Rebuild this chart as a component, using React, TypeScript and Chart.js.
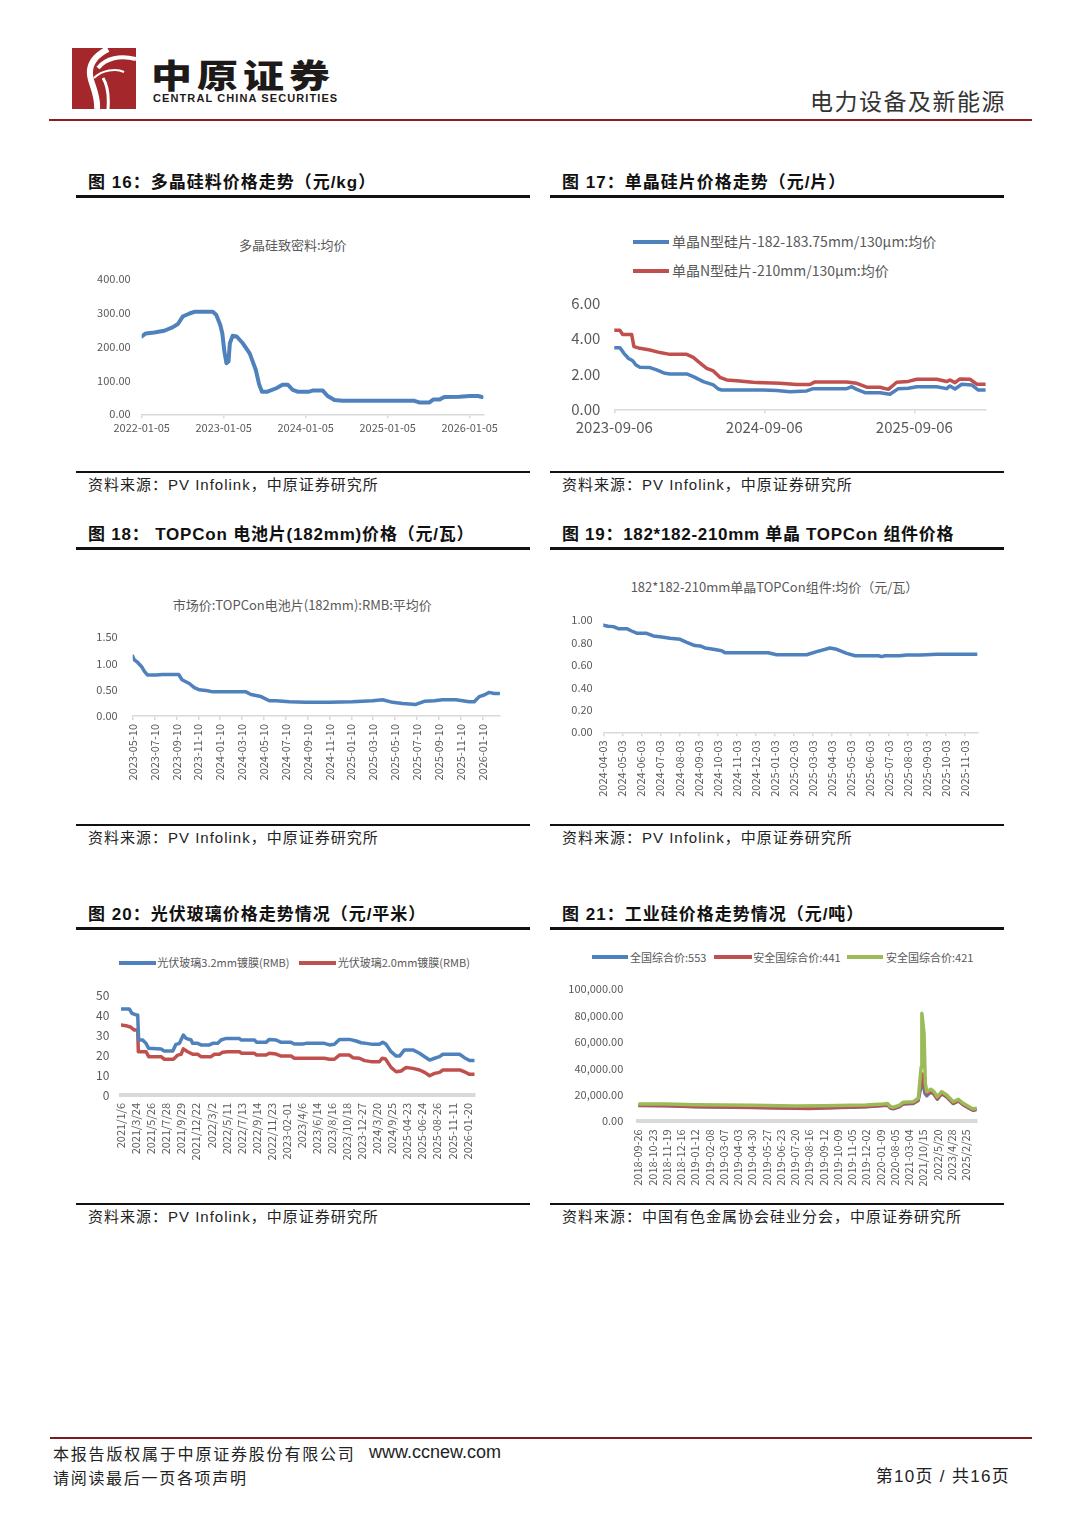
import React, { useEffect, useRef } from "react";
import { Chart, registerables } from "chart.js";

Chart.register(...registerables);

// ---------------- DATA ----------------
// Fig 16: polysilicon dense material avg price, x = months since 2022-01-05
const POLY_TICKS = [0, 12, 24, 36, 48];
const POLY_LABELS = ["2022-01-05", "2023-01-05", "2024-01-05", "2025-01-05", "2026-01-05"];
const POLYSILICON = [
  [0, 230], [0.6, 239], [1.85, 242], [3.3, 247], [4.5, 257], [5.3, 267], [6, 289], [7, 298], [7.7, 303],
  [10.4, 303], [10.9, 294], [11.5, 264], [11.8, 239], [12.1, 185], [12.4, 151], [12.7, 156], [12.9, 210],
  [13.3, 232], [13.9, 230], [14.8, 210], [15.8, 180], [16.7, 131], [17.2, 87], [17.6, 67], [18.4, 67],
  [19.7, 77], [20.6, 87], [21.4, 87], [22.1, 72], [22.8, 67], [24.5, 67], [25, 70], [26.5, 70], [27.2, 54],
  [28.2, 42], [29.4, 40], [34.3, 40], [39.9, 40], [40.6, 35], [42.1, 35], [42.7, 44], [43.6, 44], [44.3, 51],
  [46.5, 52], [48, 54], [49.2, 54], [49.8, 51],
];

// Fig 17: wafer prices, x = months since 2023-09-06
const WAFER_TICKS = [0, 12, 24];
const WAFER_LABELS = ["2023-09-06", "2024-09-06", "2025-09-06"];
const WAFER_NAMES = ["单晶N型硅片-182-183.75mm/130μm:均价", "单晶N型硅片-210mm/130μm:均价"];
const WAFER_182 = [
  [0, 3.49], [0.45, 3.49], [0.77, 3.17], [1.12, 2.89], [1.47, 2.75], [1.73, 2.51], [2.05, 2.38], [2.85, 2.36],
  [3.39, 2.23], [4.05, 2.04], [4.45, 2.0], [5.79, 2.0], [6.32, 1.85], [7.12, 1.57], [7.92, 1.38], [8.32, 1.15],
  [8.59, 1.09], [11.92, 1.09], [12.99, 1.06], [14.05, 1.0], [15.39, 1.04], [15.92, 1.17], [18.59, 1.17],
  [18.99, 1.28], [19.39, 1.13], [20.05, 0.94], [21.25, 0.94], [22.05, 0.85], [22.72, 1.17], [23.52, 1.19],
  [24.19, 1.28], [25.79, 1.28], [26.59, 1.17], [26.85, 1.32], [27.25, 1.15], [27.79, 1.42], [28.59, 1.38],
  [29.12, 1.09], [29.65, 1.09],
];
const WAFER_210 = [
  [0, 4.47], [0.45, 4.47], [0.67, 4.23], [1.39, 4.23], [1.57, 3.55], [2.05, 3.45], [2.85, 3.36], [3.65, 3.21],
  [4.45, 3.11], [5.79, 3.11], [6.32, 2.94], [6.72, 2.7], [7.39, 2.32], [7.92, 2.17], [8.45, 1.81], [8.99, 1.66],
  [9.79, 1.62], [10.85, 1.55], [11.39, 1.51], [13.25, 1.47], [14.59, 1.4], [15.65, 1.4], [16.05, 1.55],
  [18.59, 1.55], [19.39, 1.47], [20.19, 1.25], [21.25, 1.25], [21.92, 1.13], [22.59, 1.53], [23.52, 1.58],
  [24.19, 1.7], [25.79, 1.7], [26.59, 1.57], [26.85, 1.66], [27.25, 1.51], [27.65, 1.72], [28.45, 1.7],
  [28.99, 1.42], [29.65, 1.42],
];

// Fig 18: TOPCon cell price, x = months since 2023-05-10
const CELL_TICKS = [0, 2, 4, 6, 8, 10, 12, 14, 16, 18, 20, 22, 24, 26, 28, 30, 32];
const CELL_LABELS = [
  "2023-05-10", "2023-07-10", "2023-09-10", "2023-11-10", "2024-01-10", "2024-03-10", "2024-05-10",
  "2024-07-10", "2024-09-10", "2024-11-10", "2025-01-10", "2025-03-10", "2025-05-10", "2025-07-10",
  "2025-09-10", "2025-11-10", "2026-01-10",
];
const TOPCON_CELL = [
  [0, 1.14], [0.15, 1.07], [0.46, 1.02], [0.82, 0.94], [1.07, 0.85], [1.37, 0.78], [2.13, 0.78], [2.74, 0.79],
  [4.21, 0.79], [4.51, 0.69], [5.18, 0.62], [5.64, 0.54], [6.1, 0.5], [6.86, 0.48], [7.32, 0.46], [10.37, 0.46],
  [10.82, 0.41], [11.74, 0.37], [12.5, 0.29], [13.11, 0.29], [14.33, 0.27], [15.85, 0.26], [17.99, 0.26],
  [20.12, 0.27], [21.95, 0.29], [22.87, 0.31], [23.78, 0.26], [24.7, 0.24], [25.91, 0.22], [26.68, 0.28],
  [27.59, 0.29], [28.35, 0.31], [29.57, 0.31], [30.79, 0.27], [31.25, 0.27], [31.71, 0.37], [32.16, 0.4],
  [32.62, 0.45], [33.08, 0.43], [33.6, 0.43],
];

// Fig 19: TOPCon module price, x = months since 2024-04-03
const MODULE_TICKS = [0, 1, 2, 3, 4, 5, 6, 7, 8, 9, 10, 11, 12, 13, 14, 15, 16, 17, 18, 19];
const MODULE_LABELS = [
  "2024-04-03", "2024-05-03", "2024-06-03", "2024-07-03", "2024-08-03", "2024-09-03", "2024-10-03",
  "2024-11-03", "2024-12-03", "2025-01-03", "2025-02-03", "2025-03-03", "2025-04-03", "2025-05-03",
  "2025-06-03", "2025-07-03", "2025-08-03", "2025-09-03", "2025-10-03", "2025-11-03",
];
const TOPCON_MODULE = [
  [0, 0.953], [0.26, 0.944], [0.53, 0.941], [0.79, 0.923], [1.23, 0.923], [1.49, 0.902], [1.79, 0.881],
  [2.28, 0.881], [2.63, 0.858], [3.07, 0.849], [3.51, 0.837], [4.04, 0.828], [4.39, 0.801], [4.82, 0.772],
  [5.09, 0.769], [5.35, 0.751], [5.79, 0.739], [6.23, 0.727], [6.4, 0.709], [8.68, 0.709], [9.12, 0.691],
  [10.7, 0.691], [11.23, 0.718], [11.93, 0.751], [12.28, 0.739], [12.81, 0.703], [13.25, 0.682], [14.47, 0.682],
  [14.65, 0.674], [14.82, 0.682], [15.61, 0.682], [15.96, 0.688], [16.67, 0.688], [17.02, 0.691], [17.54, 0.694],
  [19.68, 0.694],
];

// Fig 20: PV glass prices, x = position along the category axis (label index)
const GLASS_TICKS = [0, 1, 2, 3, 4, 5, 6, 7, 8, 9, 10, 11, 12, 13, 14, 15, 16, 17, 18, 19, 20, 21, 22, 23];
const GLASS_LABELS = [
  "2021/1/6", "2021/3/24", "2021/5/26", "2021/7/28", "2021/9/29", "2021/12/22", "2022/3/2", "2022/5/11",
  "2022/7/13", "2022/9/14", "2022/11/23", "2023-02-01", "2023/4/6", "2023/6/14", "2023/8/16", "2023/10/18",
  "2023-12-27", "2024/3/20", "2024/9/25", "2025-04-23", "2025-06-24", "2025-08-26", "2025-11-11", "2026-01-20",
];
const GLASS_NAMES = ["光伏玻璃3.2mm镀膜(RMB)", "光伏玻璃2.0mm镀膜(RMB)"];
const GLASS_32 = [
  [0, 43.3], [0.55, 43.3], [0.73, 41.1], [1.0, 40.3], [1.11, 40.3], [1.17, 27.7], [1.44, 27.7], [1.66, 26.0],
  [1.84, 23.5], [2.66, 23.2], [2.88, 22.1], [3.44, 22.1], [3.65, 25.5], [3.88, 26.0], [4.14, 30.2], [4.32, 28.5],
  [4.65, 27.7], [4.76, 26.0], [5.09, 26.0], [5.31, 25.2], [5.87, 25.2], [6.09, 26.0], [6.42, 26.0], [6.64, 27.7],
  [6.98, 28.5], [7.86, 28.5], [7.97, 27.7], [8.86, 27.7], [9.01, 26.5], [9.63, 26.5], [9.85, 28.0], [10.3, 27.7],
  [10.63, 26.5], [11.29, 26.5], [11.51, 25.7], [12.07, 25.7], [12.29, 26.0], [13.5, 26.0], [13.84, 25.2],
  [14.17, 25.5], [14.5, 28.0], [15.17, 28.0], [15.61, 27.2], [15.94, 26.3], [16.28, 26.0], [16.72, 25.5],
  [17.16, 25.5], [17.38, 26.5], [17.6, 25.5], [17.93, 21.8], [18.27, 19.6], [18.49, 19.6], [18.82, 22.7],
  [19.38, 22.7], [19.82, 21.0], [20.16, 19.3], [20.49, 17.6], [20.82, 18.5], [21.15, 19.3], [21.37, 20.5],
  [22.48, 20.5], [22.8, 18.8], [23.14, 17.4], [23.47, 17.4],
];
const GLASS_20 = [
  [0, 35.2], [0.33, 34.9], [0.66, 34.1], [0.89, 32.7], [1.11, 32.7], [1.15, 21.8], [1.66, 21.8], [1.84, 19.3],
  [2.66, 19.3], [2.88, 18.0], [3.48, 18.0], [3.77, 20.1], [3.99, 20.5], [4.14, 23.2], [4.43, 21.8], [4.76, 20.5],
  [5.09, 20.5], [5.31, 19.3], [5.98, 19.3], [6.2, 20.5], [6.53, 20.5], [6.75, 21.5], [7.08, 21.8], [7.86, 21.8],
  [8.01, 21.0], [8.86, 21.0], [9.01, 20.1], [9.63, 20.1], [9.85, 21.0], [10.3, 20.6], [10.63, 19.6], [11.29, 19.6],
  [11.51, 18.5], [13.5, 18.5], [13.84, 18.0], [14.17, 18.0], [14.5, 20.1], [15.17, 20.1], [15.39, 18.8],
  [15.83, 18.5], [16.17, 17.3], [16.61, 16.8], [17.16, 16.8], [17.34, 18.5], [17.56, 18.1], [17.93, 13.9],
  [18.27, 11.7], [18.6, 12.1], [18.93, 13.9], [19.38, 13.4], [19.82, 12.6], [20.16, 11.4], [20.49, 9.7],
  [20.82, 10.9], [21.15, 11.4], [21.37, 12.6], [22.48, 12.6], [22.8, 11.7], [23.14, 10.4], [23.47, 10.4],
];

// Fig 21: industrial silicon prices, x = position along the category axis (label index)
const SI_TICKS = [0, 1, 2, 3, 4, 5, 6, 7, 8, 9, 10, 11, 12, 13, 14, 15, 16, 17, 18, 19, 20, 21, 22, 23];
const SI_LABELS = [
  "2018-09-26", "2018-10-23", "2018-11-19", "2018-12-16", "2019-01-12", "2019-02-08", "2019-03-07",
  "2019-04-03", "2019-04-30", "2019-05-27", "2019-06-23", "2019-07-20", "2019-08-16", "2019-09-12",
  "2019-10-09", "2019-11-05", "2019-12-02", "2020-01-09", "2020-08-05", "2021-03-04", "2021/10/15",
  "2022/5/20", "2023/4/28", "2025/2/25",
];
const SI_NAMES = ["全国综合价:553", "安全国综合价:441", "安全国综合价:421"];
const SI_553 = [
  [0, 11700], [2, 11500], [4, 10800], [8, 10300], [11, 9600], [12, 9400], [13, 9800], [16, 10800],
  [17.2, 11700], [17.5, 11900], [17.7, 9700], [17.9, 9300], [18.3, 10700], [18.6, 12900], [19.3, 13300],
  [19.65, 15500], [19.85, 26000], [19.95, 30000], [20.1, 21000], [20.24, 19000], [20.52, 22000],
  [20.75, 20200], [20.98, 16500], [21.29, 20600], [21.64, 18200], [22.1, 13200], [22.46, 15200],
  [22.8, 12200], [23.27, 9300], [23.5, 8100], [23.74, 8700],
];
const SI_441 = [
  [0, 12000], [2, 11800], [4, 11000], [8, 10500], [11, 9800], [12, 9600], [13, 10000], [16, 11000],
  [17.2, 12000], [17.5, 12200], [17.7, 10000], [17.9, 9600], [18.3, 11000], [18.6, 13200], [19.3, 13600],
  [19.65, 16000], [19.85, 30000], [19.95, 36000], [20.1, 24000], [20.24, 20500], [20.52, 22500],
  [20.75, 20600], [20.98, 16800], [21.29, 21000], [21.64, 18500], [22.1, 13500], [22.46, 15500],
  [22.8, 12500], [23.27, 9600], [23.5, 8400], [23.74, 9000],
];
const SI_421 = [
  [0, 13000], [2, 13000], [4, 12600], [8, 12200], [11, 11600], [13, 11800], [16, 12400], [17.2, 13000],
  [17.5, 13400], [17.7, 11000], [17.9, 10600], [18.3, 12000], [18.6, 14400], [19.3, 14800], [19.65, 17400],
  [19.85, 41000], [19.9, 81600], [20.05, 66500], [20.14, 28700], [20.24, 22400], [20.52, 24200],
  [20.75, 22400], [20.98, 18600], [21.29, 22400], [21.64, 19900], [22.1, 14800], [22.46, 16600],
  [22.8, 13600], [23.27, 10600], [23.5, 9300], [23.74, 10000],
];

// ---------------- STYLE ----------------
const CJK = '"Noto Sans CJK SC", "Noto Sans", sans-serif';
const LAT = '"Liberation Sans", "Noto Sans CJK SC", sans-serif';
const BLUE = "#4F81BD";
const RED = "#C0504D";
const GREEN = "#9BBB59";
const AXIS = "#D9D9D9";
const TXT = "#595959";
const DARKRED = "#8E1F1F";

const fmt2 = (v: number) => v.toFixed(2);
const fmt0 = (v: number) => String(Math.round(v));
const fmtComma = (v: number) =>
  v.toLocaleString("en-US", { minimumFractionDigits: 2, maximumFractionDigits: 2 });

type Series = { pts: number[][]; color: string; width: number; order: number };
type Cfg = {
  left: number; top: number; width: number; height: number;
  padTop: number; padRight: number; yWidth: number; xHeight: number;
  xMin: number; xMax: number; xTicks: number[]; xLabels: string[]; xRot: number; xFont: number;
  xPad: number; xTickLen: number; axisWidth: number;
  yMin: number; yMax: number; yTicks: number[]; yFmt: (v: number) => string; yFont: number; yGap: number;
  series: Series[];
};

const CHARTS: Cfg[] = [
  {
    left: 76, top: 265, width: 460, height: 180, padTop: 14, padRight: 52.6, yWidth: 65.7, xHeight: 30.7,
    xMin: 0, xMax: 50, xTicks: POLY_TICKS, xLabels: POLY_LABELS, xRot: 0, xFont: 11, xPad: 3, xTickLen: 4, axisWidth: 1.5,
    yMin: 0, yMax: 400, yTicks: [0, 100, 200, 300, 400], yFmt: fmt2, yFont: 11, yGap: 11,
    series: [{ pts: POLYSILICON, color: BLUE, width: 4, order: 0 }],
  },
  {
    left: 550, top: 290, width: 460, height: 160, padTop: 13.3, padRight: 24.4, yWidth: 64.3, xHeight: 40.7,
    xMin: 0, xMax: 29.7, xTicks: WAFER_TICKS, xLabels: WAFER_LABELS, xRot: 0, xFont: 15, xPad: 5, xTickLen: 4, axisWidth: 1.5,
    yMin: 0, yMax: 6, yTicks: [0, 2, 4, 6], yFmt: fmt2, yFont: 15, yGap: 14,
    series: [
      { pts: WAFER_182, color: BLUE, width: 3.5, order: 1 },
      { pts: WAFER_210, color: RED, width: 3.5, order: 0 },
    ],
  },
  {
    left: 76, top: 625, width: 460, height: 165, padTop: 12.3, padRight: 36.1, yWidth: 56.7, xHeight: 74,
    xMin: 0, xMax: 33.6, xTicks: CELL_TICKS, xLabels: CELL_LABELS, xRot: 90, xFont: 11, xPad: 4, xTickLen: 4, axisWidth: 1.5,
    yMin: 0, yMax: 1.5, yTicks: [0, 0.5, 1, 1.5], yFmt: fmt2, yFont: 11, yGap: 15,
    series: [{ pts: TOPCON_CELL, color: BLUE, width: 3.5, order: 0 }],
  },
  {
    left: 550, top: 607, width: 460, height: 200, padTop: 13, padRight: 32.7, yWidth: 53.3, xHeight: 74.7,
    xMin: 0, xMax: 19.68, xTicks: MODULE_TICKS, xLabels: MODULE_LABELS, xRot: 90, xFont: 11, xPad: 4, xTickLen: 4, axisWidth: 1.5,
    yMin: 0, yMax: 1, yTicks: [0, 0.2, 0.4, 0.6, 0.8, 1], yFmt: fmt2, yFont: 11, yGap: 10.6,
    series: [{ pts: TOPCON_MODULE, color: BLUE, width: 3.5, order: 0 }],
  },
  {
    left: 76, top: 982, width: 460, height: 180, padTop: 13.7, padRight: 61.5, yWidth: 45, xHeight: 67,
    xMin: 0, xMax: 23.47, xTicks: GLASS_TICKS, xLabels: GLASS_LABELS, xRot: 90, xFont: 11, xPad: 8, xTickLen: 0, axisWidth: 4,
    yMin: 0, yMax: 50, yTicks: [0, 10, 20, 30, 40, 50], yFmt: fmt0, yFont: 12, yGap: 11.7,
    series: [
      { pts: GLASS_32, color: BLUE, width: 3.5, order: 0 },
      { pts: GLASS_20, color: RED, width: 3.5, order: 1 },
    ],
  },
  {
    left: 550, top: 976, width: 460, height: 210, padTop: 13, padRight: 33.4, yWidth: 88.3, xHeight: 64.7,
    xMin: 0, xMax: 23.74, xTicks: SI_TICKS, xLabels: SI_LABELS, xRot: 90, xFont: 11, xPad: 8, xTickLen: 0, axisWidth: 4,
    yMin: 0, yMax: 100000, yTicks: [0, 20000, 40000, 60000, 80000, 100000], yFmt: fmtComma, yFont: 11, yGap: 15,
    series: [
      { pts: SI_553, color: BLUE, width: 3, order: 2 },
      { pts: SI_441, color: RED, width: 3, order: 1 },
      { pts: SI_421, color: GREEN, width: 3.5, order: 0 },
    ],
  },
];

function LineChart({ c }: { c: Cfg }) {
  const ref = useRef<HTMLCanvasElement | null>(null);
  useEffect(() => {
    if (!ref.current) return;
    const chart = new Chart(ref.current, {
      type: "line",
      data: {
        datasets: c.series.map((s) => ({
          data: s.pts.map(([x, y]) => ({ x, y })),
          borderColor: s.color,
          backgroundColor: s.color,
          borderWidth: s.width,
          pointRadius: 0,
          tension: 0,
          fill: false,
          order: s.order,
          borderJoinStyle: "round",
          borderCapStyle: "round",
        })),
      },
      options: {
        animation: false,
        responsive: false,
        maintainAspectRatio: false,
        layout: { padding: { left: 0, top: c.padTop, right: c.padRight, bottom: 0 } },
        plugins: { legend: { display: false }, tooltip: { enabled: false }, title: { display: false } },
        scales: {
          x: {
            type: "linear",
            min: c.xMin,
            max: c.xMax,
            afterBuildTicks: (s: any) => {
              s.ticks = c.xTicks.map((v) => ({ value: v }));
            },
            afterFit: (s: any) => {
              s.height = c.xHeight;
            },
            ticks: {
              autoSkip: false,
              minRotation: c.xRot,
              maxRotation: c.xRot,
              padding: c.xPad,
              color: TXT,
              font: { family: CJK, size: c.xFont },
              callback: (_v: any, i: number) => c.xLabels[i],
            },
            grid: {
              display: true,
              drawOnChartArea: false,
              drawTicks: c.xTickLen > 0,
              tickLength: c.xTickLen,
              color: AXIS,
              lineWidth: 1.5,
            },
            border: { display: true, color: AXIS, width: c.axisWidth },
          },
          y: {
            type: "linear",
            min: c.yMin,
            max: c.yMax,
            afterBuildTicks: (s: any) => {
              s.ticks = c.yTicks.map((v) => ({ value: v }));
            },
            afterFit: (s: any) => {
              s.width = c.yWidth;
            },
            ticks: {
              padding: 0,
              color: TXT,
              font: { family: CJK, size: c.yFont },
              callback: (v: any) => c.yFmt(Number(v)),
            },
            grid: { display: false, drawTicks: true, tickLength: c.yGap },
            border: { display: false },
          },
        },
      },
    } as any);
    return () => chart.destroy();
  }, [c]);
  return (
    <canvas
      ref={ref}
      width={c.width}
      height={c.height}
      style={{ position: "absolute", left: c.left, top: c.top, width: c.width, height: c.height }}
    />
  );
}

// ---------------- PAGE TEXT ----------------
type TP = {
  x: number; y: number; size: number; children: React.ReactNode; color?: string; family?: string;
  weight?: number; align?: "left" | "center" | "right"; ls?: number; sy?: number;
};
function Txt({ x, y, size, children, color = "#222", family = CJK, weight = 400, align = "left", ls = 0, sy = 1 }: TP) {
  const st: React.CSSProperties = {
    position: "absolute",
    top: y - size * 0.7,
    lineHeight: `${size * 1.4}px`,
    fontSize: size,
    color,
    fontFamily: family,
    fontWeight: weight,
    whiteSpace: "nowrap",
    letterSpacing: ls,
  };
  const tf: string[] = [];
  if (align === "left") st.left = x;
  else if (align === "center") {
    st.left = x;
    tf.push("translateX(-50%)");
  } else st.right = 1080 - x;
  if (sy !== 1) tf.push(`scaleY(${sy})`);
  if (tf.length) st.transform = tf.join(" ");
  return <div style={st}>{children}</div>;
}
function Rule({ x, y, w, h, color }: { x: number; y: number; w: number; h: number; color: string }) {
  return <div style={{ position: "absolute", left: x, top: y, width: w, height: h, background: color }} />;
}
function Swatch({ x, y, w, color }: { x: number; y: number; w: number; color: string }) {
  return <div style={{ position: "absolute", left: x, top: y - 2, width: w, height: 4, background: color }} />;
}

const PANEL_TITLES = [
  "图 16：多晶硅料价格走势（元/kg）",
  "图 17：单晶硅片价格走势（元/片）",
  "图 18： TOPCon 电池片(182mm)价格（元/瓦）",
  "图 19：182*182-210mm 单晶 TOPCon 组件价格",
  "图 20：光伏玻璃价格走势情况（元/平米）",
  "图 21：工业硅价格走势情况（元/吨）",
];
const TITLE_SPACING = [1, 1, 0.8, 0.7, 1, 1];
const PANEL_SOURCES = [
  "资料来源：PV Infolink，中原证券研究所",
  "资料来源：PV Infolink，中原证券研究所",
  "资料来源：PV Infolink，中原证券研究所",
  "资料来源：PV Infolink，中原证券研究所",
  "资料来源：PV Infolink，中原证券研究所",
  "资料来源：中国有色金属协会硅业分会，中原证券研究所",
];
const COL_X = [76, 550];
const TITLE_Y = [183, 535, 915];
const TOPRULE_Y = [195, 547, 927];
const BOTRULE_Y = [471, 824, 1203];
const SRC_Y = [484, 837, 1216.5];

export default function App() {
  return (
    <div
      style={{
        position: "absolute",
        left: 0,
        top: 0,
        width: 1080,
        height: 1527,
        background: "#fff",
        overflow: "hidden",
        fontFamily: CJK,
      }}
    >
      {/* header */}
      <svg style={{ position: "absolute", left: 72, top: 48 }} width={64} height={61} viewBox="0 0 64 61">
        <rect x={0} y={0} width={64} height={61} fill="#A3272B" />
        <path d="M36 1 C 22 8, 15 18, 19 32 C 22 42, 26 50, 25 61" stroke="#fff" strokeWidth={6} fill="none" />
        <path d="M26 20 C 34 10, 48 7, 64 11" stroke="#fff" strokeWidth={4} fill="none" />
        <path d="M31 30 C 36 38, 37 48, 36 61" stroke="#fff" strokeWidth={3} fill="none" />
        <path d="M22 30 C 30 22, 44 20, 52 24" stroke="#fff" strokeWidth={2} fill="none" />
      </svg>
      <Txt x={151} y={74} size={41} weight={900} ls={5} sy={0.8} color="#1E1A1A">
        中原证券
      </Txt>
      <Txt x={153} y={98.5} size={11} weight={700} family={LAT} ls={1.1} color="#1E1A1A">
        CENTRAL CHINA SECURITIES
      </Txt>
      <Txt x={1006} y={100} size={23} align="right" ls={1.5} color="#333">
        电力设备及新能源
      </Txt>
      <Rule x={49} y={118.5} w={983} h={2.5} color={DARKRED} />

      {/* panels */}
      {PANEL_TITLES.map((t, i) => {
        const col = i % 2;
        const row = Math.floor(i / 2);
        const x0 = COL_X[col];
        return (
          <React.Fragment key={i}>
            <Txt x={x0 + 12} y={TITLE_Y[row]} size={17} weight={700} family={LAT} ls={TITLE_SPACING[i]} color="#111">
              {t}
            </Txt>
            <Rule x={x0} y={TOPRULE_Y[row]} w={454} h={2.5} color="#111" />
            <Rule x={x0} y={BOTRULE_Y[row]} w={454} h={2} color="#111" />
            <Txt x={x0 + 12} y={SRC_Y[row]} size={15} family={LAT} ls={1} color="#222">
              {PANEL_SOURCES[i]}
            </Txt>
          </React.Fragment>
        );
      })}

      {/* chart titles & legends */}
      <Txt x={292.7} y={245} size={13} align="center" color={TXT}>
        多晶硅致密料:均价
      </Txt>
      <Swatch x={632.7} y={241.7} w={36.6} color={BLUE} />
      <Txt x={672} y={241.7} size={14} color={TXT}>
        {WAFER_NAMES[0]}
      </Txt>
      <Swatch x={632.7} y={270.7} w={36.6} color={RED} />
      <Txt x={672} y={270.7} size={14} color={TXT}>
        {WAFER_NAMES[1]}
      </Txt>
      <Txt x={302.3} y={605} size={13} align="center" color={TXT}>
        市场价:TOPCon电池片(182mm):RMB:平均价
      </Txt>
      <Txt x={774.5} y={586.7} size={13} align="center" color={TXT}>
        182*182-210mm单晶TOPCon组件:均价（元/瓦）
      </Txt>
      <Swatch x={119.3} y={962.7} w={36.7} color={BLUE} />
      <Txt x={157.3} y={962.7} size={11} color={TXT}>
        {GLASS_NAMES[0]}
      </Txt>
      <Swatch x={299.3} y={962.7} w={36.7} color={RED} />
      <Txt x={337.7} y={962.7} size={11} color={TXT}>
        {GLASS_NAMES[1]}
      </Txt>
      <Swatch x={591.7} y={957.3} w={36.6} color={BLUE} />
      <Txt x={630} y={957.3} size={11} color={TXT}>
        {SI_NAMES[0]}
      </Txt>
      <Swatch x={714.3} y={957.3} w={37.4} color={RED} />
      <Txt x={753.3} y={957.3} size={11} color={TXT}>
        {SI_NAMES[1]}
      </Txt>
      <Swatch x={846.7} y={957.3} w={36.6} color={GREEN} />
      <Txt x={886} y={957.3} size={11} color={TXT}>
        {SI_NAMES[2]}
      </Txt>

      {CHARTS.map((c, i) => (
        <LineChart key={i} c={c} />
      ))}

      {/* footer */}
      <Rule x={50} y={1436.5} w={982} h={2.5} color="#7B1B1B" />
      <Txt x={53} y={1453} size={16} ls={1.8} color="#222">
        本报告版权属于中原证券股份有限公司
      </Txt>
      <Txt x={369} y={1453} size={18} family={LAT} color="#222">
        www.ccnew.com
      </Txt>
      <Txt x={53} y={1477} size={16} ls={1.7} color="#222">
        请阅读最后一页各项声明
      </Txt>
      <Txt x={1010} y={1477} size={17} align="right" family={LAT} ls={1.3} color="#222">
        第10页 / 共16页
      </Txt>
    </div>
  );
}
